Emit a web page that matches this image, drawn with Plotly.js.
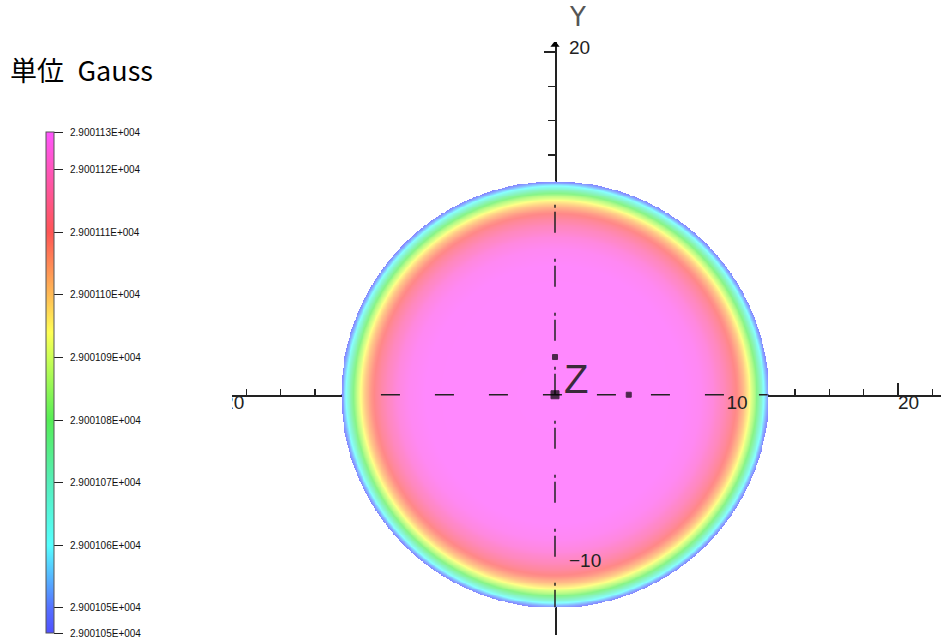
<!DOCTYPE html>
<html><head><meta charset="utf-8">
<script src="https://cdn.plot.ly/plotly-3.0.1.min.js"></script>
<style>html,body{margin:0;padding:0;background:#fff}#chart{width:941px;height:640px}</style>
</head><body><div id="chart"></div>
<script>
// Radial field profile of the disc (radius in axis units, field in Gauss)
const profileRadius = [0, 7.5, 8.5, 9.2, 9.8, 10.3, 10.7, 11.0, 11.3, 11.6, 11.85, 12.1, 12.3, 12.45];
const profileField  = [29001.126, 29001.1258, 29001.1245, 29001.122, 29001.118, 29001.113, 29001.108, 29001.102, 29001.095, 29001.086, 29001.076, 29001.064, 29001.053, 29001.046];
const fieldMin = 29001.046;
const fieldMax = 29001.126;

// Colour bar ticks
const colorbarTickVals = [29001.046, 29001.05, 29001.06, 29001.07, 29001.08, 29001.09, 29001.10, 29001.11, 29001.12, 29001.126];

// Axis ticks and labels
const xMajorTicks = [-20, -10, 0, 10, 20];
const xMinorTicks = [-18, -16, -14, -12, -8, -6, -4, -2, 2, 4, 6, 8, 12, 14, 16, 18, 22];
const yMajorTicks = [-10, 0, 10, 20];
const yMinorTicks = [-14, -12, -8, -6, -4, -2, 2, 4, 6, 8, 12, 14, 16, 18];
const xLabelVals = [-20, 10, 20];
const xLabelText = ['\u221220', '10', '20'];
const yLabelVals = [20, -10];
const yLabelText = ['20', '\u221210'];

// Small markers near the origin
const markX = [0, 0, 4.3];
const markY = [0, 2.2, 0];
const markSize = [8, 5, 5];

// Dashed segments of the axes where they cross the disc
const xDashRange = [-10.15, 12.4];
const yDashRange = [11.08, -12.4];
const yArrowTip = 20.42;

// Build the grid the heatmap needs from the radial profile
const gridX = [], gridY = [];
for (let i = -250; i <= 250; i++) { gridX.push(i / 20); gridY.push(i / 20); }
function fieldAt(r) {
  const R = profileRadius, F = profileField;
  if (r > R[R.length - 1]) return null;
  for (let k = 1; k < R.length; k++) {
    if (r <= R[k]) { const t = (r - R[k-1]) / (R[k] - R[k-1]); return F[k-1] + t * (F[k] - F[k-1]); }
  }
  return F[F.length - 1];
}
const gridZ = gridY.map(y => gridX.map(x => fieldAt(Math.sqrt(x*x + y*y))));

const discScale = [
  [0.00, '#8484ff'], [0.05, '#88a0ff'], [0.175, '#88ffff'], [0.30, '#88f4c8'],
  [0.425, '#88f488'], [0.55, '#d8ff88'], [0.60, '#ffff88'], [0.675, '#ffcc88'],
  [0.80, '#ff8888'], [0.925, '#ff88cc'], [1.00, '#ff88ff']];
const barScale = [
  [0.00, '#5050ff'], [0.05, '#5570ff'], [0.175, '#55ffff'], [0.30, '#55eebb'],
  [0.425, '#55ee55'], [0.55, '#ccff55'], [0.60, '#ffff55'], [0.675, '#ffbb55'],
  [0.80, '#ff5555'], [0.925, '#ff55bb'], [1.00, '#ff55ff']];

function fmtE(v) {
  const s = v.toExponential(6).split('e');
  const ex = parseInt(s[1], 10);
  return '\u2002' + s[0] + 'E' + (ex >= 0 ? '+' : '-') + String(Math.abs(ex)).padStart(3, '0');
}

const mL = 232, mT = 42, mB = 5, plotW = 709, plotH = 593;
const lineCol = '#222';
const traces = [
  { type: 'heatmap', x: gridX, y: gridY, z: gridZ, zmin: fieldMin, zmax: fieldMax,
    colorscale: discScale, showscale: false, zsmooth: false, hoverinfo: 'skip' },
  { type: 'scatter', mode: 'lines', x: xDashRange, y: [0, 0],
    line: { color: lineCol, width: 1.5, dash: '19px,35px' }, hoverinfo: 'skip' },
  { type: 'scatter', mode: 'lines', x: [0, 0], y: yDashRange,
    line: { color: lineCol, width: 1.5, dash: '3px,4px,21px,26px' }, hoverinfo: 'skip' },
  { type: 'scatter', mode: 'markers', x: markX, y: markY,
    marker: { symbol: 'square', color: '#000', size: markSize, line: { color: '#000', width: 1 } }, hoverinfo: 'skip' },
  { type: 'scatter', mode: 'markers', x: [0], y: [yArrowTip],
    marker: { symbol: 'triangle-up', color: '#000', size: 8 }, hoverinfo: 'skip' },
  { type: 'scatter', mode: 'text', x: xLabelVals, y: xLabelVals.map(() => 0), text: xLabelText,
    textposition: 'bottom right', cliponaxis: true,
    textfont: { family: 'Liberation Sans', size: 19, color: '#222' }, hoverinfo: 'skip' },
  { type: 'scatter', mode: 'markers', x: [null], y: [null],
    marker: { color: [fieldMin, fieldMax], cmin: fieldMin, cmax: fieldMax, colorscale: barScale,
      showscale: true,
      colorbar: {
        thickness: 8, thicknessmode: 'pixels', len: 501, lenmode: 'pixels',
        x: (46 - mL) / plotW, xref: 'paper', xanchor: 'left', xpad: 0,
        y: (640 - mB - 633) / plotH, yref: 'paper', yanchor: 'bottom', ypad: 0,
        outlinewidth: 1, outlinecolor: '#555', borderwidth: 0,
        tickmode: 'array', tickvals: colorbarTickVals, ticktext: colorbarTickVals.map(fmtE),
        ticks: 'outside', ticklen: 9, tickwidth: 1, tickcolor: '#222',
        tickfont: { family: 'Liberation Sans', size: 10, color: '#111' }
      } }, hoverinfo: 'skip' }
];

const layout = {
  width: 941, height: 640,
  margin: { l: mL, r: 0, t: mT, b: mB },
  paper_bgcolor: '#fff', plot_bgcolor: '#fff',
  showlegend: false,
  title: { text: '単位&#8194;Gauss', font: { family: 'Noto Sans CJK JP', size: 27, color: '#000' },
    x: 10 / 941, xanchor: 'left', xref: 'container', y: 1 - 72 / 640, yanchor: 'middle', yref: 'container' },
  xaxis: { range: [-323 / 17.15, 386 / 17.15], anchor: 'free', position: 240 / plotH,
    showgrid: false, zeroline: false, showline: true, linecolor: lineCol, linewidth: 1.5,
    layer: 'below traces', tickmode: 'array', tickvals: xMajorTicks, ticks: 'inside',
    ticklen: 12, tickwidth: 1.5, tickcolor: lineCol, showticklabels: false,
    minor: { tickmode: 'array', tickvals: xMinorTicks, ticks: 'inside', ticklen: 6, tickwidth: 1.5, tickcolor: lineCol },
    fixedrange: true },
  yaxis: { range: [-14.02, 353 / 17.15], anchor: 'free', position: 323 / plotW, side: 'right',
    showgrid: false, zeroline: false, showline: true, linecolor: lineCol, linewidth: 1.5,
    layer: 'below traces', tickmode: 'array', tickvals: yMajorTicks, ticks: 'inside',
    ticklen: 11, tickwidth: 1.5, tickcolor: lineCol, showticklabels: false,
    minor: { tickmode: 'array', tickvals: yMinorTicks, ticks: 'inside', ticklen: 7, tickwidth: 1.5, tickcolor: lineCol },
    fixedrange: true },
  annotations: [
    ...yLabelVals.map((v, i) => ({ xref: 'x', yref: 'y', x: 0, y: v, text: yLabelText[i],
      xanchor: 'left', yanchor: 'middle', xshift: 13, yshift: i === 0 ? 4 : 6, showarrow: false,
      borderpad: 0, font: { family: 'Liberation Sans', size: 19, color: '#222' } })),
    { xref: 'x', yref: 'y', x: 0, y: 20, text: 'Y', xanchor: 'center', yanchor: 'bottom',
      xshift: 22, yshift: 19, showarrow: false, borderpad: 0,
      font: { family: 'DejaVu Sans', size: 26, color: '#555' } },
    { xref: 'x', yref: 'y', x: 0, y: 0, text: 'Z', xanchor: 'left', yanchor: 'bottom',
      xshift: 7, yshift: -8, showarrow: false, font: { family: 'Liberation Sans', size: 40, color: '#3a2a3a' } }
  ]
};

Plotly.newPlot('chart', traces, layout, { displayModeBar: false, staticPlot: true });
</script>
</body></html>
